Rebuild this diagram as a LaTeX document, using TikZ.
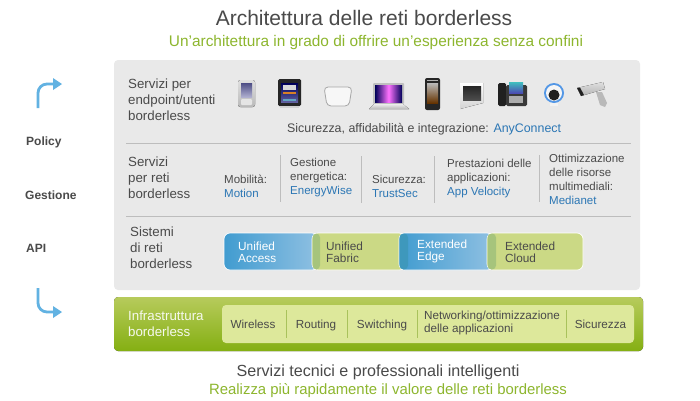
\documentclass[tikz,border=0pt]{standalone}
\usepackage{fontspec}
\setmainfont{Liberation Sans}
\definecolor{panelgrey}{HTML}{E9E9E9}
\definecolor{ruleline}{HTML}{BDBDBD}
\definecolor{inktext}{HTML}{4A4A4A}
\definecolor{linkblue}{HTML}{2B76B4}
\definecolor{headgreen}{HTML}{8DB62E}
\definecolor{arrowblue}{HTML}{62B2E2}
\definecolor{pillblueL}{HTML}{419CD0}
\definecolor{pillblueR}{HTML}{8FC0E2}
\definecolor{pillgreen}{HTML}{CBD985}
\definecolor{stripgreen}{HTML}{A6C47C}
\definecolor{stripblue}{HTML}{3E98BC}
\definecolor{infratop}{HTML}{B7CB5C}
\definecolor{infrabot}{HTML}{84AF12}
\definecolor{infralight}{HTML}{DDE89B}
\definecolor{infrarule}{HTML}{A9C25C}
\tikzset{
  lbl/.style={anchor=west,inner sep=0pt,align=left,text=inktext,font=\fontsize{11.5}{14}\selectfont},
  bigl/.style={lbl,font=\fontsize{13.3}{15.8}\selectfont},
  sidel/.style={lbl,font=\fontsize{12}{13}\selectfont\bfseries},
  pilll/.style={lbl,font=\fontsize{11.8}{12.2}\selectfont},
  infral/.style={anchor=base,inner sep=0pt,align=left,text=inktext,font=\fontsize{11.7}{12.2}\selectfont},
  sep/.style={ruleline,line width=0.7pt},
  infrasep/.style={infrarule,line width=0.9pt},
  bluepill/.style={draw=white,line width=0.7pt,rounded corners=6pt,left color=pillblueL,right color=pillblueR},
  greenpill/.style={draw=white,line width=0.7pt,rounded corners=6pt,fill=pillgreen},
  bent/.style={arrowblue,line width=2.8pt,rounded corners=9pt},
  tiphead/.style={fill=arrowblue}
}
\newcommand{\link}[1]{\textcolor{linkblue}{#1}}
\begin{document}
\begin{tikzpicture}[x=1pt,y=-1pt]
\useasboundingbox (0,0) rectangle (700,400);
\fill[white] (0,0) rectangle (700,400);
% titles
\node[inner sep=0pt,text=inktext,font=\fontsize{21}{23}\selectfont] (title) at (364,18) {Architettura delle reti borderless};
\node[inner sep=0pt,text=headgreen,font=\fontsize{15.4}{17}\selectfont] (subtitle) at (376,43) {Un'architettura in grado di offrire un'esperienza senza confini};
% side column
\node[sidel] (policy) at (26,142) {Policy};
\node[sidel] (gestione) at (25,195) {Gestione};
\node[sidel] (api) at (26,248.5) {API};
\coordinate (upstart) at (38,108);
\coordinate (upend) at (54,84);
\coordinate (downstart) at (38,288);
\coordinate (downend) at (54,312);
\draw[bent] (upstart) -- (38,84) -- (upend);
\fill[tiphead] (53,78) -- (62,84) -- (53,90) -- cycle;
\draw[bent] (downstart) -- (38,312) -- (downend);
\fill[tiphead] (53,306) -- (62,312) -- (53,318) -- cycle;
% grey panel
\fill[panelgrey,rounded corners=4pt] (114,60) rectangle (640,290);
\draw[sep] (126,143) -- (631,143);
\draw[sep] (126,216) -- (631,216);
% endpoint row
\node[bigl] (endpoint) at (128,100) {Servizi per\\endpoint/utenti\\borderless};
\node[lbl,font=\fontsize{12.4}{14}\selectfont] (anyconnect) at (287,129) {Sicurezza, affidabilità e integrazione: \link{AnyConnect}};
% handheld
\fill[top color=gray!25,bottom color=gray!55,rounded corners=2.5pt] (238,80) rectangle (255,107);
\fill[top color=black!45!blue!40!gray,bottom color=blue!25!gray!50] (241,83) rectangle (252,97);
\fill[gray!20,rounded corners=1pt] (241,99) rectangle (252,105);
% tablet
\fill[black!85,rounded corners=1.5pt] (278,79) rectangle (301,106);
\fill[top color=blue!35!black,bottom color=blue!25!gray] (281,83) rectangle (298,102);
\fill[white!70!gray] (283,85) rectangle (296,90);
\fill[orange!70!gray] (283,92) rectangle (296,93.5);
\fill[cyan!50!gray] (283,99) rectangle (296,101);
\fill[gray!35] (280,106) rectangle (299,107.5);
% access point
\draw[gray!70,line width=0.8pt,fill=white!94!gray,rounded corners=4pt] (324,87) -- (352,87) -- (349,106) -- (327,106) -- cycle;
% laptop
\fill[gray!50,rounded corners=1pt] (373,83) rectangle (404,104);
\fill[left color=blue!35!black,right color=blue!35!black,middle color=magenta!55!white] (375,85) rectangle (402,102);
\fill[top color=gray!15,bottom color=gray!55] (374,104) -- (403,104) -- (409,109) -- (369,109) -- cycle;
% smart phone
\fill[black!85,rounded corners=2pt] (425,78) rectangle (440,110);
\fill[top color=gray!55,bottom color=orange!40!black] (427,83) rectangle (438,103);
\fill[gray!60] (427,79.5) rectangle (438,81);
% video unit
\fill[top color=white,bottom color=gray!35] (460,83) -- (483,83) -- (483,103) -- (460,109) -- cycle;
\fill[top color=black!85,bottom color=gray!60!black] (463,86) rectangle (481,100);
% desk phone
\fill[gray!25!black,rounded corners=1.5pt] (498,83) rectangle (506,106);
\fill[gray!45!black,rounded corners=1.5pt] (506,85) rectangle (527,106);
\fill[top color=cyan!50!gray,bottom color=blue!40!gray] (509,82) rectangle (523,93);
\fill[gray!65] (509,96) rectangle (523,103);
% webcam
\fill[white!90!gray] (550,100) rectangle (558,106);
\fill[arrowblue!85!blue] (554,93) circle (10pt);
\fill[white!92!gray] (554,93) circle (8pt);
\fill[gray!25!black] (554,95) circle (5.5pt);
% security camera
\fill[top color=gray!25,bottom color=gray!60] (577,88) -- (603,82) -- (605,89) -- (581,96) -- cycle;
\fill[gray!25!black] (577,88) -- (581,96) -- (584,95) -- (580,87.5) -- cycle;
\fill[gray!55] (596,92) -- (602,92) -- (607,103) -- (605,107) -- (600,105) -- cycle;
% network services row
\node[bigl] (servizi) at (128,178) {Servizi\\per reti\\borderless};
\node[lbl] (mobilita) at (224,186) {Mobilità:\\\link{Motion}};
\draw[sep] (280,155) -- (280,202);
\node[lbl] (energia) at (290,178) {Gestione\\energetica:\\\link{EnergyWise}};
\draw[sep] (361,156) -- (361,203);
\node[lbl] (trustsec) at (372,186) {Sicurezza:\\\link{TrustSec}};
\draw[sep] (434,156) -- (434,203);
\node[lbl] (velocity) at (447,179) {Prestazioni delle\\applicazioni:\\\link{App Velocity}};
\draw[sep] (539,155) -- (539,202);
\node[lbl] (medianet) at (549,179) {Ottimizzazione\\delle risorse\\multimediali:\\\link{Medianet}};
% systems row
\node[bigl] (sistemi) at (130,248) {Sistemi\\di reti\\borderless};
\draw[bluepill] (224,233) rectangle (318,270);
\draw[greenpill] (312,233) rectangle (405,270);
\fill[stripgreen,rounded corners=4pt] (312.5,233.5) rectangle (320,269.5);
\draw[bluepill] (399,233) rectangle (493,270);
\fill[stripblue,rounded corners=4pt] (399.5,233.5) rectangle (408,269.5);
\draw[greenpill] (487,233) rectangle (583,270);
\fill[stripgreen,rounded corners=4pt] (487.5,233.5) rectangle (496,269.5);
\node[pilll,text=white] (access) at (238,252.5) {Unified\\Access};
\node[pilll] (fabric) at (326,252.5) {Unified\\Fabric};
\node[pilll,text=white] (edge) at (417,251.5) {Extended\\Edge};
\node[pilll] (cloud) at (505,252.5) {Extended\\Cloud};
% infrastructure band
\fill[top color=infratop,bottom color=infrabot,rounded corners=4pt] (114,297) rectangle (643,351);
\fill[infralight,rounded corners=4pt] (222,305) rectangle (634,343);
\node[bigl,text=white!92!headgreen] (infra) at (128,323.5) {Infrastruttura\\borderless};
\node[infral] (wireless) at (253,328) {Wireless};
\draw[infrasep] (286,310) -- (286,338);
\node[infral] (routing) at (316,328) {Routing};
\draw[infrasep] (347,310) -- (347,338);
\node[infral] (switching) at (382,328) {Switching};
\draw[infrasep] (417,310) -- (417,338);
\node[infral,anchor=center] (networking) at (492,323) {Networking/ottimizzazione\\delle applicazioni};
\draw[infrasep] (566,310) -- (566,338);
\node[infral] (sicurezza) at (600.5,328) {Sicurezza};
% bottom lines
\node[inner sep=0pt,text=inktext,font=\fontsize{16.1}{18}\selectfont] (tecnici) at (378,372) {Servizi tecnici e professionali intelligenti};
\node[inner sep=0pt,text=headgreen,font=\fontsize{14.9}{17}\selectfont] (realizza) at (388,391) {Realizza più rapidamente il valore delle reti borderless};
\end{tikzpicture}
\end{document}
